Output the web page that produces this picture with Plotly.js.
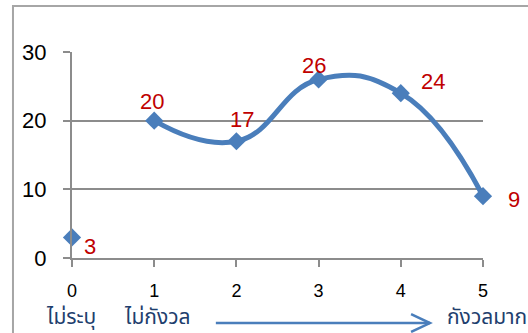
<!DOCTYPE html>
<html>
<head>
<meta charset="utf-8">
<script src="https://cdn.plot.ly/plotly-3.0.1.min.js"></script>
<style>
  html, body { margin: 0; padding: 0; background: #fff; }
  #chart { width: 528px; height: 333px; }
</style>
</head>
<body>
<div id="chart"></div>
<script>
// Level of concern (0 = not specified, 1 = not worried ... 5 = very worried)
const levels = [0, 1, 2, 3, 4, 5];
const counts = [3, 20, 17, 26, 24, 9];
const yTicks = [0, 10, 20, 30];
const scaleLabels = ['ไม่ระบุ', 'ไม่กังวล', 'กังวลมาก'];

const blue = '#4A7EBB';
const grid = '#8C8C8C';
const red = '#C00000';
const navy = '#1F3F6E';
const labelFont = 'Liberation Sans, Arial, sans-serif';
const thaiFont = 'Noto Sans Thai, Noto Sans, Tahoma, sans-serif';

// Level 0 stands apart; the smooth curve only joins levels 1–5
const traces = [
  {
    x: levels.slice(1), y: counts.slice(1),
    type: 'scatter', mode: 'lines',
    line: { color: blue, width: 5, shape: 'spline', smoothing: 1.3 },
    hoverinfo: 'skip', cliponaxis: false
  },
  {
    x: levels, y: counts,
    type: 'scatter', mode: 'markers',
    marker: { symbol: 'diamond', size: 14, color: blue },
    cliponaxis: false
  }
];

// value label offsets (pixels) per point
const offsets = [[18, -9], [-2, 19], [6, 22], [-5, 14], [32, 12], [31, -3]];
const annotations = levels.map((lv, i) => ({
  x: lv, y: counts[i], xref: 'x', yref: 'y',
  text: String(counts[i]), showarrow: false,
  xshift: offsets[i][0], yshift: offsets[i][1],
  font: { family: labelFont, size: 22, color: red }
}));

// scale captions under the axis
const captionPos = [[-0.068, 'left'], [0.122, 'left'], [0.908, 'left']];
scaleLabels.forEach((t, i) => {
  annotations.push({
    x: captionPos[i][0], y: -0.29, xref: 'paper', yref: 'paper',
    xanchor: captionPos[i][1], yanchor: 'middle',
    text: t, showarrow: false,
    font: { family: thaiFont, size: 21, color: navy }
  });
});

const shapes = [
  // arrow shaft
  { type: 'line', xref: 'paper', yref: 'paper', x0: 0.350, x1: 0.871, y0: -0.316, y1: -0.316,
    line: { color: blue, width: 2.5 } },
  // open arrow head
  { type: 'path', xref: 'paper', yref: 'paper',
    path: 'M0.825,-0.272 L0.871,-0.316 L0.825,-0.359',
    line: { color: blue, width: 2.5 } },
  // outer chart frame
  { type: 'path', xref: 'paper', yref: 'paper',
    path: 'M-0.1436,-0.5 L-0.1436,1.223 L1.2,1.223',
    line: { color: '#A6A6A6', width: 2 } }
];

const layout = {
  width: 528, height: 333,
  margin: { l: 72, r: 45, t: 52, b: 75 },
  paper_bgcolor: '#fff', plot_bgcolor: '#fff',
  showlegend: false,
  xaxis: {
    range: [0, 5], tickvals: levels, ticktext: levels.map(String),
    showgrid: false, zeroline: false,
    showline: true, linecolor: grid, linewidth: 2,
    ticks: 'outside', ticklen: 7, tickwidth: 2, tickcolor: grid,
    tickfont: { family: labelFont, size: 18, color: '#000' },
    ticklabelstandoff: 8, fixedrange: true
  },
  yaxis: {
    range: [0, 30], tickvals: yTicks, ticktext: yTicks.map(String),
    showgrid: true, gridcolor: grid, gridwidth: 2, zeroline: false,
    showline: true, linecolor: grid, linewidth: 2,
    ticks: 'outside', ticklen: 7, tickwidth: 2, tickcolor: grid,
    tickfont: { family: labelFont, size: 22, color: '#000' },
    ticklabelstandoff: 12, fixedrange: true
  },
  annotations: annotations,
  shapes: shapes
};

Plotly.newPlot('chart', traces, layout, { displayModeBar: false, staticPlot: true });
</script>
</body>
</html>
